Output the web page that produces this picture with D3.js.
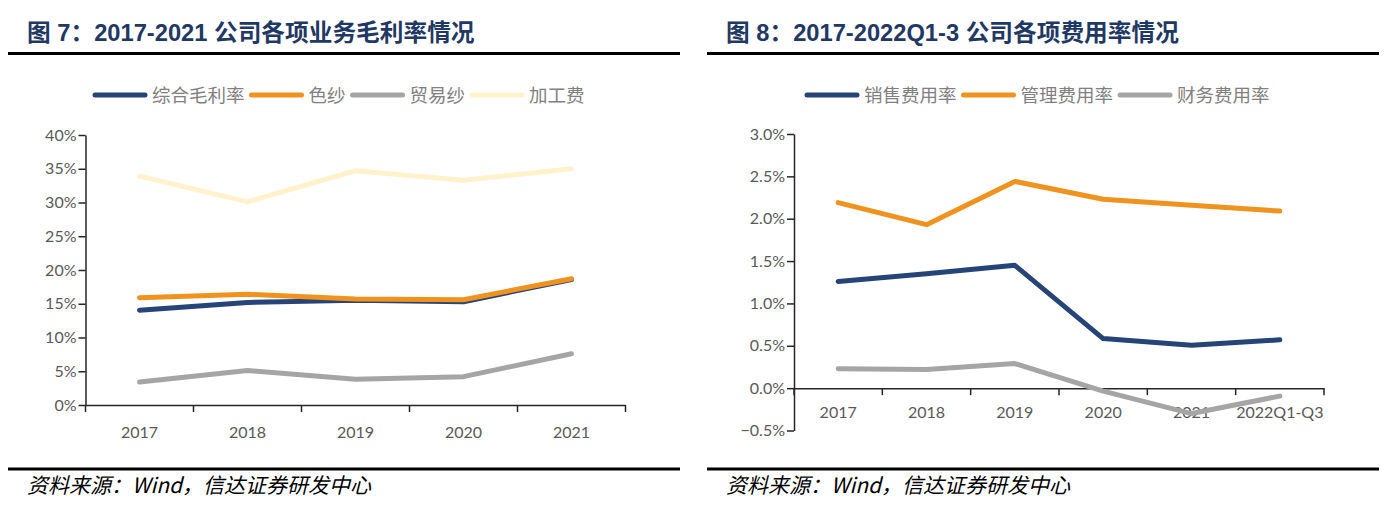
<!DOCTYPE html>
<html><head><meta charset="utf-8">
<script src="https://cdn.jsdelivr.net/npm/d3@7"></script>
<style>
html,body{margin:0;padding:0;background:#fff;}
svg{display:block;}
</style></head>
<body>
<svg id="c" width="1399" height="513"></svg>
<script>
// ---- data ----
const yearsL = ["2017","2018","2019","2020","2021"];
const grossAll = [14.05, 15.2, 15.5, 15.3, 18.6];
const colorYarn = [15.9, 16.4, 15.7, 15.6, 18.7];
const tradeYarn = [3.4, 5.1, 3.8, 4.2, 7.6];
const processFee = [33.9, 30.1, 34.7, 33.3, 35.0];
const ticksL = [0,5,10,15,20,25,30,35,40];

const yearsR = ["2017","2018","2019","2020","2021","2022Q1-Q3"];
const salesRate = [1.26, 1.35, 1.45, 0.585, 0.505, 0.57];
const mgmtRate = [2.19, 1.93, 2.44, 2.23, 2.16, 2.09];
const finRate = [0.23, 0.22, 0.29, -0.035, -0.30, -0.094];
const ticksR = [-0.5,0,0.5,1.0,1.5,2.0,2.5,3.0];

const titleL = "图 7：2017-2021 公司各项业务毛利率情况";
const titleR = "图 8：2017-2022Q1-3 公司各项费用率情况";
const source = "资料来源：Wind，信达证券研发中心";

const C = {navy:"#264478", orange:"#f0921e", gray:"#a5a5a5", cream:"#fff2cc"};

const svg = d3.select("#c");
const tickFont = "Lato, 'Noto Sans', sans-serif";
const cjk = "'Liberation Sans', Arial, 'Noto Sans CJK SC', sans-serif";

function panel(opt){
  const g = svg.append("g");
  // title
  g.append("text").attr("x", opt.x0 + 19).attr("y", 40.5)
    .attr("font-family", cjk).attr("font-weight", "bold").attr("font-size", 23.7)
    .attr("fill", "#1f3864").text(opt.title);
  g.append("line").attr("x1", opt.x0).attr("x2", opt.x0 + 672).attr("y1", 53.5).attr("y2", 53.5)
    .attr("stroke", "#000").attr("stroke-width", 3);
  g.append("line").attr("x1", opt.x0).attr("x2", opt.x0 + 672).attr("y1", 469).attr("y2", 469)
    .attr("stroke", "#000").attr("stroke-width", 3);
  g.append("text").attr("x", opt.x0 + 19).attr("y", 493)
    .attr("font-family", "'Noto Sans CJK SC', sans-serif").attr("font-style", "italic")
    .attr("font-size", 21).attr("fill", "#000").text(opt.source);

  const x = d3.scaleBand().domain(opt.cats).range([opt.left, opt.right]).padding(0);
  const y = d3.scaleLinear().domain(opt.domain).range([opt.bottom, opt.top]);

  // y axis
  const ya = g.append("g").attr("transform", `translate(${opt.left},0)`)
    .call(d3.axisLeft(y).tickValues(opt.ticks).tickFormat(opt.fmt).tickSize(7).tickSizeOuter(0));
  ya.select(".domain").attr("stroke", "#262626").attr("stroke-width", 1.5);
  ya.selectAll(".tick line").attr("stroke", "#262626").attr("stroke-width", 1.5);
  ya.selectAll(".tick text").attr("font-family", tickFont).attr("font-size", 16)
    .attr("fill", "#595959").attr("x", -9);

  // x axis at zero
  const xa = g.append("g").attr("transform", `translate(0,${y(0)})`)
    .call(d3.axisBottom(x).tickSize(0).tickSizeOuter(0));
  xa.select(".domain").attr("stroke", "#262626").attr("stroke-width", 1.5);
  xa.selectAll(".tick text").attr("font-family", tickFont).attr("font-size", 16)
    .attr("fill", "#595959").attr("dy", opt.xdy);
  // boundary ticks
  const bounds = opt.cats.map(c => x(c)).concat([opt.right]);
  xa.selectAll("line.b").data(bounds).join("line").attr("class","b")
    .attr("x1", d => d).attr("x2", d => d).attr("y1", 0).attr("y2", 7)
    .attr("stroke", "#262626").attr("stroke-width", 1.5);

  const line = d3.line().x((d,i) => x(opt.cats[i]) + x.bandwidth()/2).y(d => y(d));
  opt.series.forEach(s => {
    g.append("path").datum(s.values).attr("d", line).attr("fill", "none")
      .attr("stroke", s.color).attr("stroke-width", 5)
      .attr("stroke-linejoin", "round").attr("stroke-linecap", "round");
  });

  // legend
  let lx = opt.legendX;
  const ly = 95;
  opt.series.forEach(s => {
    g.append("line").attr("x1", lx + 2).attr("x2", lx + 52).attr("y1", ly).attr("y2", ly)
      .attr("stroke", s.color).attr("stroke-width", 5).attr("stroke-linecap", "round");
    lx += 59;
    const t = g.append("text").attr("x", lx).attr("y", ly + 6.5)
      .attr("font-family", "'Noto Sans CJK SC', sans-serif").attr("font-size", 18.5)
      .attr("fill", "#808080").text(s.name);
    lx += t.node().getComputedTextLength() + 5;
  });
}

panel({
  x0: 8, title: titleL, source: source,
  cats: yearsL, left: 85.5, right: 625.5, top: 135, bottom: 405,
  domain: [0, 40], ticks: ticksL, fmt: d => d + "%", xdy: "1.85em",
  legendX: 93,
  series: [
    {name: "综合毛利率", color: C.navy, values: grossAll},
    {name: "色纱", color: C.orange, values: colorYarn},
    {name: "贸易纱", color: C.gray, values: tradeYarn},
    {name: "加工费", color: C.cream, values: processFee}
  ]
});

panel({
  x0: 707, title: titleR, source: source,
  cats: yearsR, left: 794, right: 1324, top: 134, bottom: 430.5,
  domain: [-0.5, 3.0], ticks: ticksR, fmt: d => d3.format(".1f")(d) + "%", xdy: "1.7em",
  legendX: 805,
  series: [
    {name: "销售费用率", color: C.navy, values: salesRate},
    {name: "管理费用率", color: C.orange, values: mgmtRate},
    {name: "财务费用率", color: C.gray, values: finRate}
  ]
});
</script>
</body></html>
